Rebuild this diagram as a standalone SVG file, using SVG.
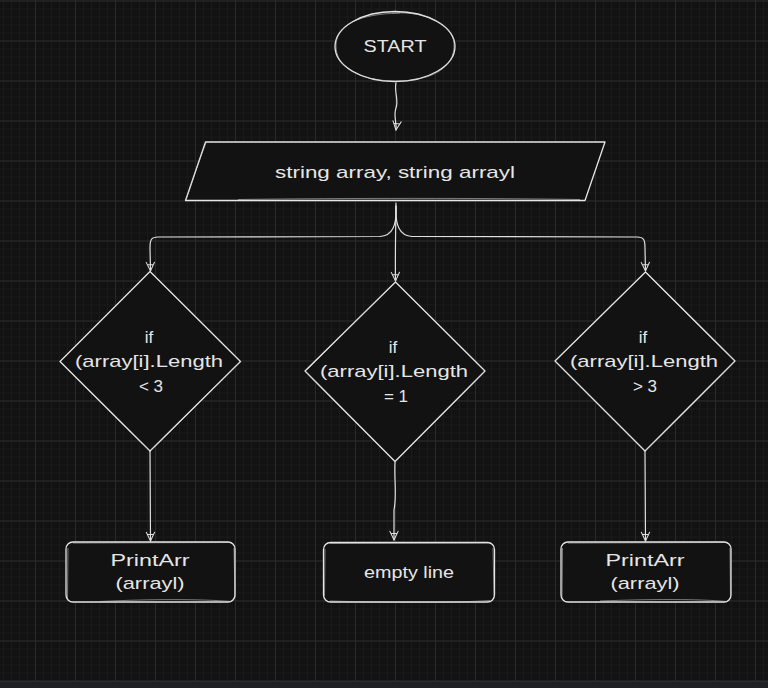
<svg xmlns="http://www.w3.org/2000/svg" width="768" height="688" viewBox="0 0 768 688">
  <defs>
    <pattern id="minor" patternUnits="userSpaceOnUse" x="3" y="0.5" width="8" height="8">
      <path d="M0.5 0V8M0 0.5H8" stroke="#1a1a1a" stroke-width="1" fill="none"/>
    </pattern>
    <pattern id="major" patternUnits="userSpaceOnUse" x="35" y="0.5" width="40" height="40">
      <path d="M0.5 0V40M0 0.5H40" stroke="#2a2a2a" stroke-width="1" fill="none"/>
    </pattern>
    <marker id="arrd" viewBox="0 0 12 12" refX="11" refY="6" markerWidth="11" markerHeight="11" markerUnits="userSpaceOnUse" orient="auto">
      <path d="M1.5 1.5L11 6L1.5 10.5M4 2.8L4 9.2" fill="none" stroke="#e0e0e0" stroke-width="1.1" stroke-linecap="round" stroke-linejoin="round"/>
    </marker>
  </defs>
  <style>
    .shape { fill: #121212; stroke: #e6e6e6; stroke-width: 1.3; stroke-linejoin: round; }
    .sketch { fill: none; stroke: #d0d0d0; stroke-width: 0.8; stroke-opacity: 0.7; }
    .conn { fill: none; stroke: #e0e0e0; stroke-width: 1.2; stroke-linecap: round; stroke-linejoin: round; }
    .t { font-family: "Liberation Sans", "DejaVu Sans", sans-serif; font-size: 17px; fill: #e6e6e6; text-anchor: middle; dominant-baseline: central; }
  </style>
  <rect x="0" y="0" width="768" height="688" fill="#121212"/>
  <rect x="0" y="0" width="768" height="688" fill="url(#minor)"/>
  <rect x="0" y="0" width="768" height="688" fill="url(#major)"/>
  <rect x="0" y="681" width="768" height="7" fill="#1f2023"/>
  <line x1="0" y1="681.5" x2="768" y2="681.5" stroke="#2c2d31"/>

  <g id="connectors">
    <path class="conn" d="M396 83C394 92 399 100 396 108C393 116 397 122 396 130" marker-end="url(#arrd)"/>
    <path class="conn" d="M396 203C396 220 395 250 395.5 281" marker-end="url(#arrd)"/>
    <path class="conn" d="M396 206C397 226 392 236 380 236.5L158 237C151 237 150 240 150 248L150.5 271" marker-end="url(#arrd)"/>
    <path class="conn" d="M396 206C395 226 400 236 412 236.5L637 237C644 237 645 240 645 248L645.5 271" marker-end="url(#arrd)"/>
    <path class="conn" d="M150 451L150.5 541" marker-end="url(#arrd)"/>
    <path class="conn" d="M395 462C394 480 397 495 394 510L394 540" marker-end="url(#arrd)"/>
    <path class="conn" d="M645 451L645.5 541" marker-end="url(#arrd)"/>
  </g>

  <g id="start">
    <ellipse class="shape" cx="395" cy="46.5" rx="60" ry="35"/>
    <path class="sketch" d="M392 13C428 11 456 25 454 48C452 72 424 82 392 81C360 80 336 68 336 46C336 24 360 14 400 13"/>
    <text class="t" x="395" y="46" textLength="63" lengthAdjust="spacingAndGlyphs">START</text>
  </g>

  <g id="input">
    <polygon class="shape" points="205.5,142 605,142 585,200.5 185.5,200.5"/>
    <path class="sketch" d="M186 200C193 180 199 160 206 143M238 199.5C350 198 480 198 580 199.5"/>
    <text class="t" x="395" y="172" textLength="240" lengthAdjust="spacingAndGlyphs">string array, string arrayl</text>
  </g>

  <g id="cond-less">
    <polygon class="shape" points="150,271.5 240.5,361.5 150,451 60,361.5"/>
    <path class="sketch" d="M61 362C90 392 120 422 149 450M239 363C210 392 180 422 151 450"/>
    <text class="t" x="149" y="337">if</text>
    <text class="t" x="149" y="361.5" textLength="148" lengthAdjust="spacingAndGlyphs">(array[i].Length</text>
    <text class="t" x="151" y="386">&lt; 3</text>
  </g>

  <g id="cond-equal">
    <polygon class="shape" points="395.5,282 485,371 395,461.5 305,371"/>
    <path class="sketch" d="M394 283C365 312 335 342 307 370M306 372C335 402 365 432 394 460M484 372C455 402 425 432 396 460"/>
    <text class="t" x="393" y="347">if</text>
    <text class="t" x="394" y="371.5" textLength="148" lengthAdjust="spacingAndGlyphs">(array[i].Length</text>
    <text class="t" x="396" y="396">= 1</text>
  </g>

  <g id="cond-greater">
    <polygon class="shape" points="645.5,272 735,361 645,451 555,361"/>
    <path class="sketch" d="M646 273C675 302 705 332 734 360M734 362C705 392 675 422 646 450"/>
    <text class="t" x="643" y="337">if</text>
    <text class="t" x="644" y="361.5" textLength="148" lengthAdjust="spacingAndGlyphs">(array[i].Length</text>
    <text class="t" x="645" y="386">&gt; 3</text>
  </g>

  <g id="print-less">
    <rect class="shape" x="66" y="542" width="169" height="60" rx="7"/>
    <path class="sketch" d="M73 543L230 542.5M68 548L67.5 598M100 601.5C150 599 200 599 232 601.5M234 548L235 597"/>
    <text class="t" x="150" y="560" textLength="79" lengthAdjust="spacingAndGlyphs">PrintArr</text>
    <text class="t" x="150" y="583" textLength="69" lengthAdjust="spacingAndGlyphs">(arrayl)</text>
  </g>

  <g id="empty-line">
    <rect class="shape" x="323.5" y="542.5" width="171" height="59.5" rx="7"/>
    <path class="sketch" d="M330 543.5L488 543M325 549L324.5 596M330 601C400 603 450 603 490 600.5M493 548L494 596"/>
    <text class="t" x="409" y="572" textLength="90" lengthAdjust="spacingAndGlyphs">empty line</text>
  </g>

  <g id="print-greater">
    <rect class="shape" x="561" y="542" width="170" height="60" rx="7"/>
    <path class="sketch" d="M568 543L725 542.5M562.5 548L562 597M600 601C650 599 700 599 727 601.5M730 548L730.5 597"/>
    <text class="t" x="645" y="560" textLength="79" lengthAdjust="spacingAndGlyphs">PrintArr</text>
    <text class="t" x="645" y="583" textLength="69" lengthAdjust="spacingAndGlyphs">(arrayl)</text>
  </g>
</svg>
